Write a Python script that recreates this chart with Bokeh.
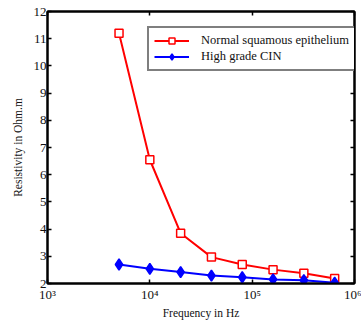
from bokeh.plotting import figure
from bokeh.models import (LinearAxis, LogAxis, FixedTicker, CustomJSTickFormatter,
                          Legend, LegendItem)
from bokeh.embed import file_html
from bokeh.resources import INLINE

# Measurement frequencies (Hz) and resistivity (Ohm.m)
frequency = [5000, 10000, 20000, 40000, 80000, 160000, 320000, 640000]
normal_squamous = [11.2, 6.55, 3.85, 2.97, 2.70, 2.51, 2.38, 2.18]
high_grade_cin = [2.70, 2.54, 2.42, 2.29, 2.23, 2.15, 2.12, 2.03]

x_ticks = [1e3, 1e4, 1e5, 1e6]
y_ticks = list(range(2, 13))

SERIF = "Liberation Serif"
INK = "#111111"

p = figure(width=361, height=322, x_axis_type="log",
           x_range=(1e3, 1e6), y_range=(2, 12),
           output_backend="svg", toolbar_location=None,
           min_border_left=47, min_border_right=7,
           min_border_top=11, min_border_bottom=39)
p.grid.visible = False
p.outline_line_color = "black"
p.outline_line_width = 2
p.background_fill_color = "white"
p.border_fill_color = "white"

pow_fmt = CustomJSTickFormatter(code="""
const sup = {3: '\u00b3', 4: '\u2074', 5: '\u2075', 6: '\u2076'};
const e = Math.round(Math.log10(tick));
return '10' + (sup[e] || e);
""")
blank = CustomJSTickFormatter(code="return '';")

def style(ax):
    ax.axis_line_color = "black"
    ax.axis_line_width = 2
    ax.major_tick_in = 4
    ax.major_tick_out = 0
    ax.major_tick_line_width = 1.5
    ax.minor_tick_line_color = None
    ax.major_label_text_font = SERIF
    ax.major_label_text_font_size = "13px"
    ax.major_label_text_color = INK
    ax.major_label_standoff = 1
    ax.axis_label_text_font = SERIF
    ax.axis_label_text_font_size = "11.5px"
    ax.axis_label_text_font_style = "normal"
    ax.axis_label_text_color = INK

xa = p.xaxis[0]
xa.ticker = FixedTicker(ticks=x_ticks)
xa.formatter = pow_fmt
xa.axis_label = "Frequency in Hz"
style(xa)
xa.major_label_standoff = 3
xa.axis_label_standoff = 2

ya = p.yaxis[0]
ya.ticker = FixedTicker(ticks=y_ticks)
ya.axis_label = "Resistivity in Ohm.m"
style(ya)
ya.axis_label_standoff = 7

top = LogAxis(ticker=FixedTicker(ticks=x_ticks), formatter=blank)
style(top)
top.major_label_text_font_size = "0px"
p.add_layout(top, "above")

right = LinearAxis(ticker=FixedTicker(ticks=y_ticks), formatter=blank)
style(right)
right.major_label_text_font_size = "0px"
p.add_layout(right, "right")

r_line = p.line(frequency, normal_squamous, line_color="red", line_width=2)
r_mark = p.scatter(frequency, normal_squamous, marker="square", size=8,
                   line_color="red", line_width=1.5, fill_color="white")
b_line = p.line(frequency, high_grade_cin, line_color="blue", line_width=2)
b_mark = p.scatter(frequency, high_grade_cin, marker="diamond", size=11,
                   line_color="blue", line_width=1.5, fill_color="blue")

legend = Legend(items=[
    LegendItem(label="Normal squamous epithelium", renderers=[r_line, r_mark]),
    LegendItem(label="High grade CIN", renderers=[b_line, b_mark]),
], location=(100, 212))
legend.border_line_color = "black"
legend.border_line_width = 2
legend.background_fill_color = "white"
legend.background_fill_alpha = 1
legend.padding = 5
legend.spacing = 1
legend.margin = 0
legend.glyph_width = 35
legend.glyph_height = 15
legend.label_standoff = 12
legend.label_height = 15
legend.label_text_font = SERIF
legend.label_text_font_size = "12.5px"
legend.label_text_color = INK
p.add_layout(legend)

open("out.html", "w").write(file_html(p, INLINE))
